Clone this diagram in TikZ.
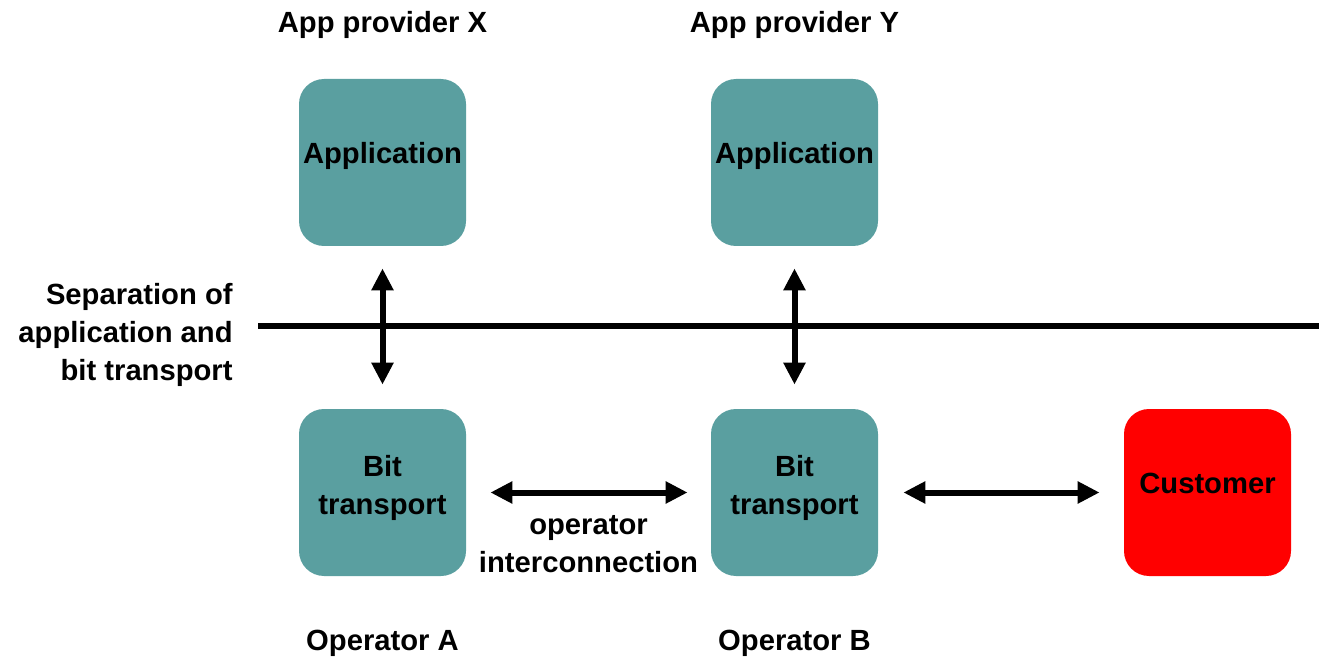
\documentclass[tikz,border=0pt]{standalone}
\usepackage{fontspec}
\setmainfont{Liberation Sans}
\usetikzlibrary{arrows.meta,positioning}
\definecolor{appteal}{RGB}{90,159,160}
\definecolor{custred}{RGB}{255,0,0}

\begin{document}
\begin{tikzpicture}[x=0.5pt, y=-0.5pt,
  font=\fontsize{14.6pt}{19pt}\selectfont\bfseries,
  box/.style={rounded corners=12.5pt, minimum size=83.5pt, inner sep=0pt},
  boxtext/.style={yshift=#1, align=center, inner sep=0pt},
  boxtext/.default=4.5pt,
  lbl/.style={inner sep=0pt, align=center},
  dbl/.style={line width=3pt,
    {Triangle[width=10.5pt,length=11pt]}-{Triangle[width=10.5pt,length=11pt]}}]

  \useasboundingbox (0,0) rectangle (1319,658);

  \newcommand\XA{382.5}
  \newcommand\XB{794.5}
  \newcommand\XC{1207.5}
  \newcommand\YA{162.5}
  \newcommand\YB{492.5}

  % application layer
  \node[box, fill=appteal, label={[boxtext=3.5pt]center:Application}] (appX) at (\XA,\YA) {};
  \node[box, fill=appteal, label={[boxtext=3.5pt]center:Application}] (appY) at (\XB,\YA) {};
  \node[lbl, above=20pt of appX] (provX) {App provider X};
  \node[lbl, above=20pt of appY] (provY) {App provider Y};

  % bit transport layer
  \node[box, fill=appteal, label={[boxtext=2.5pt]center:Bit\\transport}] (bitA) at (\XA,\YB) {};
  \node[box, fill=appteal, label={[boxtext=2.5pt]center:Bit\\transport}] (bitB) at (\XB,\YB) {};
  \node[box, fill=custred, label={[boxtext]center:Customer}] (cust) at (\XC,\YB) {};
  \node[lbl, below=26.5pt of bitA] (opA) {Operator A};
  \node[lbl, below=26.5pt of bitB] (opB) {Operator B};

  % separation line
  \coordinate (sepL) at (258,326);
  \coordinate (sepR) at (1319,326);
  \draw[line width=3pt] (sepL) -- (sepR);
  \node[lbl, align=right, left=12.5pt of sepL, yshift=-4.25pt] (sepText)
    {Separation of\\application and\\bit transport};

  \draw[dbl, shorten <=11pt, shorten >=12pt] (appX) -- (bitA);
  \draw[dbl, shorten <=11pt, shorten >=12pt] (appY) -- (bitB);

  \draw[dbl, shorten <=12pt, shorten >=11.5pt] (bitA) --
  node[lbl, below=10pt] (intercon) {operator\\interconnection} (bitB);
  \draw[dbl, shorten <=12.5pt, shorten >=12pt] (bitB) -- (cust);

\end{tikzpicture}
\end{document}
